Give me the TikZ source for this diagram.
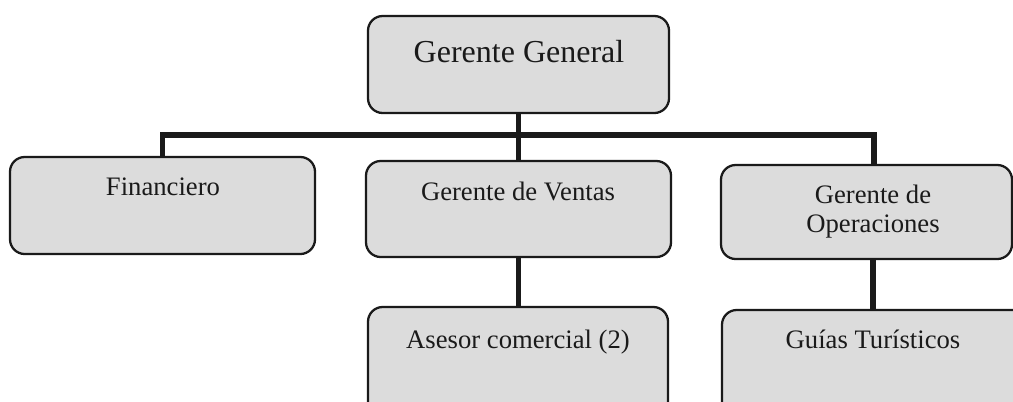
\documentclass[tikz,border=0pt]{standalone}
\usepackage{fontspec}
\setmainfont{Liberation Serif}
\usetikzlibrary{calc}
\definecolor{boxfill}{HTML}{DCDCDC}
\definecolor{ink}{HTML}{1A1A1A}
\tikzset{
  orgbox/.style={draw=ink, fill=boxfill, line width=1.7pt, rounded corners=11pt,
    inner sep=0pt, outer sep=0pt, anchor=north west},
  lbl/.style={anchor=base, inner sep=0pt, text=ink, font=\fontsize{20}{24}\selectfont},
  biglbl/.style={anchor=base, inner sep=0pt, text=ink, font=\fontsize{24}{28}\selectfont},
  conn/.style={draw=ink, line width=3.9pt, line join=miter}
}
\begin{document}
\begin{tikzpicture}[x=0.75pt,y=-0.75pt]
\useasboundingbox (0,0) rectangle (1013,401);
\clip (0,0) rectangle (1013,401);
% boxes
\node[orgbox, minimum width=225.75pt, minimum height=72.75pt] (gg) at (368,16) {};
\node[orgbox, minimum width=228.75pt, minimum height=72.75pt] (fin) at (10,157) {};
\node[orgbox, minimum width=228.75pt, minimum height=72pt] (ven) at (366,161) {};
\node[orgbox, minimum width=218.25pt, minimum height=70.5pt] (ops) at (721,165) {};
\node[orgbox, minimum width=225pt, minimum height=90pt] (ase) at (368,307) {};
\node[orgbox, minimum width=240pt, minimum height=90pt] (gui) at (722,310) {};
% labels
\node[biglbl] (tgg) at (519,62) {Gerente General};
\node[lbl] (tfin) at (163,195) {Financiero};
\node[lbl] (tven) at (518,200) {Gerente de Ventas};
\node[lbl] (tops1) at (873,203) {Gerente de};
\node[lbl] (tops2) at (873,232) {Operaciones};
\node[lbl] (tase) at (518,348) {Asesor comercial (2)};
\node[lbl] (tgui) at (873,348) {Guías Turísticos};
% connectors
\coordinate (bar) at ($(gg.south)+(0,22)$);
\coordinate (opsT) at ($(ops.north west)+(153,0)$);
\coordinate (opsB) at ($(ops.south west)+(152,0)$);
\draw[conn] (gg.south) -- (ven.north);
\draw[conn] (fin.north) |- (bar) -| (opsT);
\draw[conn] (ven.south) -- (ven.south |- ase.north);
\draw[conn] (opsB) -- (opsB |- gui.north);
\end{tikzpicture}
\end{document}
